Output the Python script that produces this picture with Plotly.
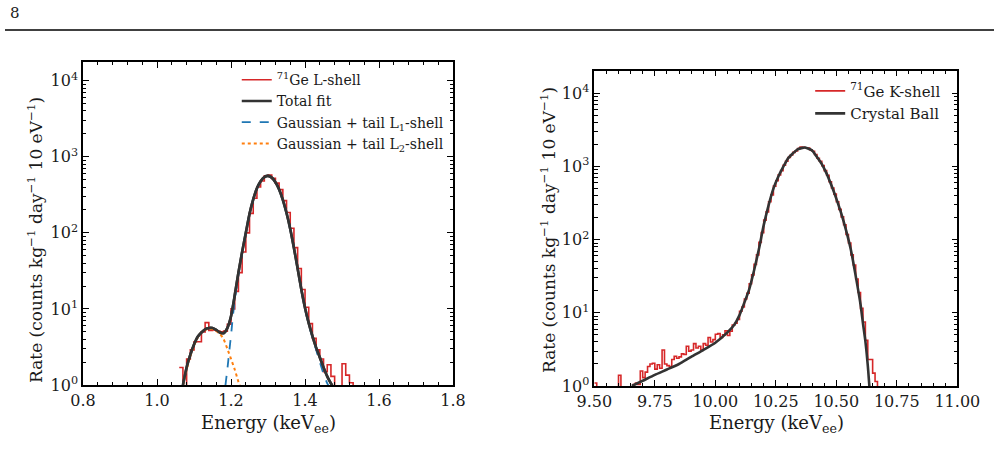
import numpy as np
import plotly.graph_objects as go

# ---------------- data: left panel (71Ge L-shell) ----------------
L_bin_start = 1.06
L_bin_width = 0.01
L_hist = [1.7, 0, 2.2, 2.9, 3.7, 3.7, 5.0, 6.6, 5.2, 5.3,
          5.1, 5.0, 5.1, 6.3, 10, 17, 30, 56, 100, 180,
          285, 400, 480, 560, 575, 520, 450, 370, 265, 185,
          115, 64, 34, 18, 10.5, 6.4, 4.1, 2.9, 2.2, 1.5,
          1.85, 1.3, 0, 0, 1.9, 1.35, 1.07, 0]

L_total_x = [1.07, 1.08, 1.09, 1.10, 1.11, 1.12, 1.13, 1.14, 1.15, 1.16, 1.17, 1.18,
             1.19, 1.20, 1.21, 1.22, 1.23, 1.24, 1.25, 1.26, 1.27, 1.28, 1.29, 1.30,
             1.31, 1.32, 1.33, 1.34, 1.35, 1.36, 1.37, 1.38, 1.39, 1.40, 1.41, 1.42,
             1.43, 1.44, 1.45, 1.46, 1.47, 1.475]
L_total_y = [1.0, 1.7, 2.5, 3.4, 4.3, 4.9, 5.4, 5.6, 5.6, 5.3, 4.9, 4.8,
             5.6, 8.0, 15, 30, 56, 100, 178, 275, 385, 478, 540, 560,
             532, 462, 372, 272, 182, 112, 63, 34, 18, 10.3, 6.5, 4.4,
             3.1, 2.3, 1.7, 1.3, 1.05, 0.95]

L1_x = [1.185, 1.19, 1.195, 1.20, 1.205, 1.21, 1.22, 1.23, 1.24, 1.25, 1.26, 1.27,
        1.28, 1.29, 1.30, 1.31, 1.32, 1.33, 1.34, 1.35, 1.36, 1.37, 1.38, 1.39,
        1.40, 1.41, 1.42, 1.43, 1.44, 1.45, 1.46, 1.465]
L1_y = [1.0, 1.6, 2.7, 4.5, 8.0, 13, 28, 55, 100, 176, 272, 382,
        476, 540, 560, 532, 462, 372, 272, 182, 112, 63, 34, 18,
        10.1, 6.3, 4.2, 2.9, 2.0, 1.4, 1.05, 0.95]

L2_x = [1.07, 1.08, 1.09, 1.10, 1.11, 1.12, 1.13, 1.14, 1.15, 1.16, 1.17, 1.18,
        1.19, 1.20, 1.21, 1.22, 1.225]
L2_y = [1.0, 1.6, 2.4, 3.3, 4.2, 4.9, 5.3, 5.5, 5.4, 5.1, 4.7, 4.0,
        3.0, 2.2, 1.6, 1.1, 0.95]

# ---------------- data: right panel (71Ge K-shell) ----------------
K_bin_start = 9.50
K_bin_width = 0.01
K_hist = [1.1, 0, 0, 0, 0, 0, 0, 0, 0, 0,                 # 9.50-9.59
          1.4, 0, 0, 0, 0, 0, 1.05, 1.1, 1.05, 1.6,       # 9.60-9.69
          1.3, 1.55, 1.85, 2.0, 2.05, 1.7, 1.95, 1.75, 3.1, 2.0,   # 9.70-9.79
          1.9, 1.85, 2.3, 2.55, 2.4, 2.5, 2.75, 2.7, 3.5, 3.0,     # 9.80-9.89
          3.1, 3.8, 3.3, 3.5, 3.1, 3.8, 3.6, 4.6, 4.0, 4.3,        # 9.90-9.99
          5.1, 5.2, 4.6, 5.0, 5.7, 4.9, 5.6, 6.8, 7.2, 8.1,        # 10.00-10.09
          10.5, 12, 15.5, 18.5, 25, 33, 46, 62, 92, 125,           # 10.10-10.19
          185, 240, 330, 410, 540, 640, 770, 880, 1040, 1180,      # 10.20-10.29
          1330, 1440, 1560, 1640, 1760, 1840, 1830, 1810, 1790, 1700,  # 10.30-10.39
          1620, 1460, 1300, 1180, 1030, 880, 760, 620, 510, 420,   # 10.40-10.49
          330, 260, 205, 160, 118, 90, 62, 45, 29, 19,             # 10.50-10.59
          11.5, 7.5, 4.2, 2.3, 2.3, 1.5, 1.15, 0]                  # 10.60-10.67

CB_x = [9.655, 9.70, 9.75, 9.80, 9.85, 9.90, 9.95, 10.00, 10.05, 10.08, 10.10,
        10.12, 10.14, 10.16, 10.18, 10.20, 10.22, 10.24, 10.26, 10.28, 10.30,
        10.32, 10.34, 10.36, 10.37, 10.38, 10.40, 10.42, 10.44, 10.46, 10.48,
        10.50, 10.52, 10.54, 10.56, 10.58, 10.60, 10.61, 10.62, 10.63, 10.637]
CB_y = [1.0, 1.18, 1.42, 1.68, 2.0, 2.5, 3.1, 3.9, 5.4, 7.0, 9.3,
        13.8, 21, 38, 74, 158, 295, 500, 725, 980, 1290,
        1510, 1720, 1800, 1820, 1780, 1660, 1350, 1080, 800, 550,
        365, 230, 135, 73, 32, 13, 7.2, 4.1, 1.9, 0.95]

# tick labels
y_tickvals = [1, 10, 100, 1000, 10000]
y_ticktext = ["10<sup>0</sup>", "10<sup>1</sup>", "10<sup>2</sup>", "10<sup>3</sup>", "10<sup>4</sup>"]
L_xticks = [0.8, 1.0, 1.2, 1.4, 1.6, 1.8]
L_xticktext = ["0.8", "1.0", "1.2", "1.4", "1.6", "1.8"]
K_xticks = [9.50, 9.75, 10.00, 10.25, 10.50, 10.75, 11.00]
K_xticktext = ["9.50", "9.75", "10.00", "10.25", "10.50", "10.75", "11.00"]

FONT = "DejaVu Serif"
RED = "#d62728"
BLACK = "#333333"
TXT = "#1a1a1a"


def step_xy(start, width, vals):
    n = len(vals)
    edges = start + width * np.arange(n + 1)
    y = [v if v > 0 else 1e-3 for v in vals]
    y = y + [y[-1]]
    return edges, y


fig = go.Figure()

# left panel
lx, ly = step_xy(L_bin_start, L_bin_width, L_hist)
fig.add_trace(go.Scatter(x=lx, y=ly, mode="lines", line=dict(color=RED, width=1.6, shape="hv"),
                         name="<sup>71</sup>Ge L-shell", xaxis="x", yaxis="y", legend="legend"))
fig.add_trace(go.Scatter(x=L_total_x, y=L_total_y, mode="lines",
                         line=dict(color=BLACK, width=2.6, shape="spline", smoothing=0.6),
                         name="Total fit", xaxis="x", yaxis="y", legend="legend"))
fig.add_trace(go.Scatter(x=L1_x, y=L1_y, mode="lines",
                         line=dict(color="#1f77b4", width=1.8, dash="dash", shape="spline", smoothing=0.6),
                         name="Gaussian + tail L<sub>1</sub>-shell", xaxis="x", yaxis="y", legend="legend"))
fig.add_trace(go.Scatter(x=L2_x, y=L2_y, mode="lines",
                         line=dict(color="#ff7f0e", width=2.0, dash="dot", shape="spline", smoothing=0.6),
                         name="Gaussian + tail L<sub>2</sub>-shell", xaxis="x", yaxis="y", legend="legend"))
# re-draw total fit on top of components
fig.add_trace(go.Scatter(x=L_total_x, y=L_total_y, mode="lines",
                         line=dict(color=BLACK, width=2.6, shape="spline", smoothing=0.6),
                         showlegend=False, xaxis="x", yaxis="y"))

# right panel
kx, ky = step_xy(K_bin_start, K_bin_width, K_hist)
fig.add_trace(go.Scatter(x=kx, y=ky, mode="lines", line=dict(color=RED, width=1.6, shape="hv"),
                         name="<sup>71</sup>Ge K-shell", xaxis="x2", yaxis="y2", legend="legend2"))
fig.add_trace(go.Scatter(x=CB_x, y=CB_y, mode="lines",
                         line=dict(color=BLACK, width=2.6, shape="spline", smoothing=0.6),
                         name="Crystal Ball", xaxis="x2", yaxis="y2", legend="legend2"))

axis_common = dict(showline=True, linecolor="black", linewidth=1.5, mirror="allticks",
                   ticks="inside", ticklen=6, tickwidth=1.3, tickcolor="black",
                   showgrid=False, zeroline=False, automargin=False,
                   tickfont=dict(family=FONT, size=16, color=TXT))

minor_common = dict(ticks="inside", ticklen=3.5, tickwidth=1, tickcolor="black", showgrid=False)

fig.update_layout(
    template="none",
    width=999, height=472, margin=dict(l=0, r=0, t=0, b=0, pad=0, autoexpand=False),
    paper_bgcolor="white", plot_bgcolor="white",
    showlegend=True,
    xaxis=dict(domain=[0.0831, 0.4535], range=[0.8, 1.8], anchor="y",
               tickvals=L_xticks, ticktext=L_xticktext,
               minor=dict(dtick=0.04, tick0=0.8, **minor_common),
               **axis_common),
    yaxis=dict(domain=[0.1843, 0.8686], type="log", range=[0, 4.245], anchor="x",
               tickvals=y_tickvals, ticktext=y_ticktext,
               minor=dict(dtick="D1", **minor_common),
               **axis_common),
    xaxis2=dict(domain=[0.5949, 0.9583], range=[9.5, 11.0], anchor="y2",
                tickvals=K_xticks, ticktext=K_xticktext,
                minor=dict(dtick=0.05, tick0=9.5, **minor_common),
                **axis_common),
    yaxis2=dict(domain=[0.1822, 0.8502], type="log", range=[0, 4.31], anchor="x2",
                tickvals=y_tickvals, ticktext=y_ticktext,
                minor=dict(dtick="D1", **minor_common),
                **axis_common),
    legend=dict(x=0.237, y=0.864, xanchor="left", yanchor="top", bgcolor="rgba(0,0,0,0)",
                font=dict(family=FONT, size=14, color=TXT), tracegroupgap=0),
    legend2=dict(x=0.811, y=0.842, xanchor="left", yanchor="top", bgcolor="rgba(0,0,0,0)",
                 font=dict(family=FONT, size=15, color=TXT), tracegroupgap=0),
)

fig.add_annotation(text="8", x=8 / 999, y=1 - 13 / 472, xref="paper", yref="paper",
                   showarrow=False, xanchor="left", yanchor="middle",
                   font=dict(family=FONT, size=15, color=TXT))
fig.add_shape(type="line", xref="paper", yref="paper", x0=5 / 999, x1=994 / 999,
              y0=1 - 30 / 472, y1=1 - 30 / 472, line=dict(color="black", width=1.5))

title_font = dict(family=FONT, size=18, color=TXT)
ytitle = "Rate (counts kg<sup>−1</sup> day<sup>−1</sup> 10 eV<sup>−1</sup>)"
for xc in [268, 776]:
    fig.add_annotation(text="Energy (keV<sub>ee</sub>)", x=xc / 999, y=1 - 424 / 472,
                       xref="paper", yref="paper", showarrow=False,
                       xanchor="center", yanchor="middle", font=title_font)
for xc, yc in [(35, 240), (548, 230)]:
    fig.add_annotation(text=ytitle, x=xc / 999, y=1 - yc / 472, xref="paper", yref="paper",
                       showarrow=False, textangle=-90, xanchor="center", yanchor="middle",
                       font=dict(family=FONT, size=17, color=TXT))

fig.write_html("out.html")
